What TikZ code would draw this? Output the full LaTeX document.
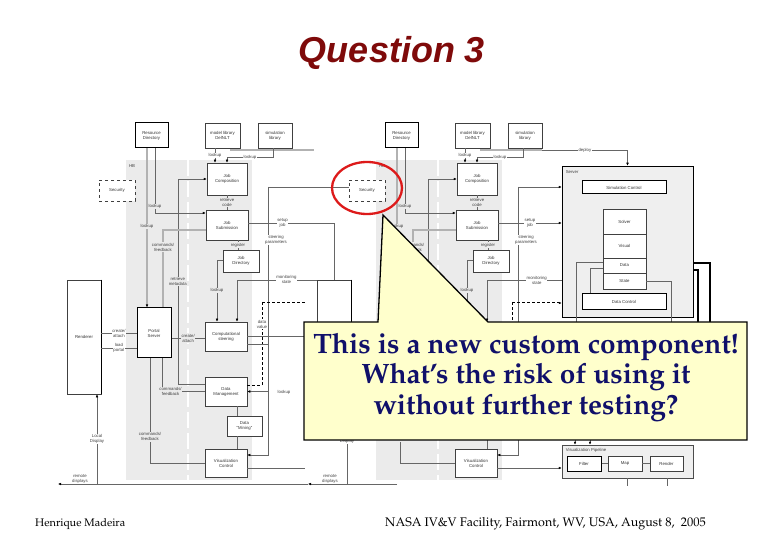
\documentclass[tikz,border=0pt]{standalone}
\usepackage[T1]{fontenc}
\usepackage{fontspec}
\usetikzlibrary{arrows.meta}
\newfontfamily\headfont{Liberation Sans}
\newfontfamily\diafont{Liberation Sans}
\newcommand\palfont{\fontencoding{T1}\fontfamily{ppl}\selectfont}
\newcommand\hidtext[1]{#1}
\definecolor{bggrey}{HTML}{EBEBEB}
\definecolor{servergrey}{HTML}{EFEFEF}
\definecolor{titlered}{HTML}{7F0A0A}
\definecolor{navy}{HTML}{10106A}
\definecolor{noteyellow}{HTML}{FFFFCC}
\definecolor{ringred}{HTML}{DD1A1A}

% one copy of the architecture, names prefixed by #1
\newcommand\archcopy[1]{%
  \fill[bggrey] (126,160) rectangle (252,480);
  \draw[white,line width=2.5pt,dash pattern=on 16pt off 5pt] (188,160) -- (188,480);
  \node[lbl,fill=none] (#1hb) at (132,166) {HB};
  % components
  \node[bbox,minimum width=33pt,minimum height=25pt] (#1rd) at (151.5,135.5) {Resource\\Directory};
  \node[box,minimum width=35pt,minimum height=25pt] (#1ml) at (222.5,135.5) {model library\\DelNLT};
  \node[box,minimum width=34pt,minimum height=25pt] (#1sl) at (275,135.5) {simulation\\library};
  \node[box,dashed,minimum width=36pt,minimum height=21pt] (#1sec) at (117,190.5) {Security};
  \node[box,minimum width=40pt,minimum height=32pt] (#1jc) at (227,179) {Job\\Composition};
  \node[box,minimum width=42pt,minimum height=30pt] (#1js) at (227,225) {Job\\Submission};
  \node[box,minimum width=36pt,minimum height=22pt] (#1jd) at (241,261) {Job\\Directory};
  \node[box,minimum width=34pt,minimum height=114pt] (#1ren) at (84,337) {\hidtext{Renderer}};
  \node[bbox,minimum width=34pt,minimum height=50pt] (#1ps) at (154,333) {\hidtext{Portal\\Server}};
  \node[box,minimum width=42pt,minimum height=29pt] (#1cs) at (226,336.5) {\hidtext{Computational\\steering}};
  \node[box,minimum width=42pt,minimum height=29pt] (#1dm) at (226,391.5) {\hidtext{Data\\Management}};
  \node[box,minimum width=35pt,minimum height=20pt] (#1dmin) at (244.5,426) {\hidtext{Data\\“Mining”}};
  \node[box,minimum width=42pt,minimum height=28pt] (#1vc) at (226,463) {Visualization\\Control};
  \draw[black,line width=1.5pt] (#1ren.north east) -- (#1ren.south east);
  % connectors
  \draw[thk] ([xshift=-10pt,yshift=-2pt]#1ml.south east) -- ([yshift=-2pt]#1sl.south east);
  \draw[ln,arr] ([xshift=-7.5pt]#1ml.south) -- node[lbl] (#1l1) {lookup} ([xshift=-7.5pt]#1ml.south |- #1jc.north);
  \draw[ln,arr] ([xshift=-2pt]#1sl.south) -- ++(0,9) -| node[lbl,pos=0.25] (#1l2) {lookup} (#1jc.north);
  \draw[ln,arr] (#1dm.north west) ++(0,7) -- ++(-27,0) |- node[lbl,pos=0.25,fill=bggrey] (#1l3) {\hidtext{retrieve\\metadata}} (#1jc.west);
  \draw[ln,arr] ([xshift=3.5pt]#1rd.south) |- node[lbl,pos=0.45,fill=bggrey] (#1l4) {lookup} ([yshift=12pt]#1js.west);
  \draw[thk,arr] ([xshift=-4.5pt]#1rd.south) -- node[lbl,pos=0.49,fill=bggrey] (#1l5) {lookup} ([xshift=-4.5pt]#1rd.south |- #1ps.north);
  \draw[thk] ([yshift=-5pt]#1js.west) -| node[lbl,pos=0.61,fill=bggrey] (#1l6) {commands/\\feedback} ([xshift=9pt]#1ps.north);
  \draw[ln] (#1jc.south) -- node[lbl,fill=bggrey] (#1l7) {retrieve\\code} (#1jc.south |- #1js.north);
  \draw[ln] ([xshift=11pt]#1js.south) -- node[lbl,fill=bggrey] (#1l8) {register} ([xshift=11pt]#1js.south |- #1jd.north);
  \draw[ln,arr] ([yshift=1pt]#1jd.west) -| node[lbl,pos=0.75,fill=bggrey] (#1l9) {lookup} ([xshift=-9pt]#1cs.north);
  \draw[ln] (#1ps.west) -- node[lbl] (#1l10) {\hidtext{create/\\attach}} (#1ps.west -| #1ren.east);
  \draw[ln] ([yshift=-15pt]#1ps.west) -- node[lbl] (#1l11) {\hidtext{load\\portal}} ([yshift=-15pt]#1ps.west -| #1ren.east);
  \draw[ln] ([yshift=-5pt]#1ps.east) -- node[lbl,fill=bggrey] (#1l12) {\hidtext{create/\\attach}} ([yshift=-5pt]#1ps.east -| #1cs.west);
  \draw[ln] ([xshift=8pt]#1ps.south) |- node[lbl,pos=0.6,fill=bggrey] (#1l13) {\hidtext{commands/\\feedback}} (#1dm.west);
  \draw[ln] ([xshift=-4pt]#1ps.south) |- node[lbl,pos=0.375,fill=bggrey] (#1l14) {commands/\\feedback} (#1vc.west);
  \draw[ln] ([xshift=11pt]#1dm.south) -- ([xshift=11pt]#1dm.south |- #1dmin.north);
  \draw[ln] ([xshift=11pt]#1vc.north |- #1dmin.south) -- ([xshift=11pt]#1vc.north);
  \coordinate (#1dvtop) at (262,303);
  \draw[dsh] ([yshift=6pt]#1dm.east) -| (#1dvtop);
  \coordinate (#1tap) at (268,187);
  \draw[ln,arr] (#1tap) |- ([yshift=8pt]#1vc.east);
  \draw[ln] ([yshift=-8pt]#1cs.east) -- ([yshift=-8pt]#1cs.east -| #1tap);
  \draw[ln,arr] (#1dm.east -| #1tap) -- (#1dm.east);
  \coordinate (#1rdl) at (58,484);
  \coordinate (#1rdr) at (147,484);
  \draw[ln,arr] (#1rdr) -- (#1rdl);
  \draw[ln,arr] ([xshift=13pt]#1ren.south |- #1rdl) -- node[lbl] (#1l15) {Local\\Display} ([xshift=13pt]#1ren.south);
  % free labels
  \node[lbl] (#1l16) at (276,240) {steering\\parameters};
  \node[lbl] (#1l17) at (262,324) {\hidtext{data\\value}};
  \node[lbl] (#1l18) at (284,392) {\hidtext{lookup}};
  \node[lbl] (#1l19) at (80,479) {remote\\displays};
}

\begin{document}
\begin{tikzpicture}[x=1pt,y=-1pt,
  box/.style={draw=black!75,fill=white,line width=0.5pt,inner sep=0pt,align=center,
    font=\diafont\fontsize{4.3}{5}\selectfont,text=black!80},
  bbox/.style={box,draw=black,line width=1pt},
  lbl/.style={font=\diafont\fontsize{4.3}{5}\selectfont,text=black!75,align=center,
    inner sep=0.6pt,fill=white},
  ln/.style={draw=black!60,line width=0.45pt},
  thk/.style={draw=black!30,line width=1.6pt},
  dsh/.style={draw=black,line width=1pt,dash pattern=on 3pt off 2pt},
  arr/.style={-{Latex[length=3pt,width=2.6pt,color=black]}}]
  \fill[white] (0,0) rectangle (780,540);
  \useasboundingbox (0,0) rectangle (780,540);

  \node[font=\headfont\bfseries\itshape\fontsize{36}{40}\selectfont,text=titlered,anchor=base] (title) at (392,63) {Question 3};

  % the two copies of the diagram
  \archcopy{L}
  \begin{scope}[xshift=250pt]
    % texts under the callout stay blank
    \renewcommand\hidtext[1]{}
    \archcopy{R}
  \end{scope}

  % left copy, links running to the right
  \draw[thk] ([yshift=-2pt]Lsl.south east) -- ++(22,0);
  \draw[ln] (Ltap) -- (Ltap -| Rsec.west);
  \draw[ln] ([yshift=2pt]Ljs.east) -| node[lbl,pos=0.2] (Lsetup) {setup\\job} (Rren.north);
  \draw[ln,arr] (Rren.north west) -| node[lbl,pos=0.19] (Lmon) {monitoring\\state} ([xshift=11pt]Lcs.north);
  \draw[dsh] (Ldvtop) -- ++(43,0);
  \draw[ln] (Lcs.east) -- ++(58,0);
  \draw[ln] ([yshift=-5pt]Lvc.east) -- ++(58,0);
  \draw[ln] (Rrdl) -- (Lrdr);

  % server
  \node[box,fill=servergrey,draw=black,minimum width=131pt,minimum height=151pt] (srv) at (627.5,241.5) {};
  \draw[black,line width=1.4pt] ([yshift=-3pt]srv.north east) -- (srv.south east) -- ([xshift=3pt]srv.south west);
  \node[lbl,fill=none,anchor=west] (srvl) at (565,172) {Server};
  \node[bbox,minimum width=84pt,minimum height=13pt] (simc) at (624,187.5) {Simulation Control};
  \node[box,minimum width=43pt,minimum height=25pt] (solver) at (624.5,221.5) {Solver};
  \node[box,minimum width=43pt,minimum height=24pt] (visual) at (624.5,246) {Visual};
  \node[box,minimum width=43pt,minimum height=15pt] (data) at (624.5,265.5) {Data};
  \node[box,minimum width=43pt,minimum height=16pt] (state) at (624.5,281) {State};
  \node[bbox,minimum width=84pt,minimum height=16pt] (dc) at (624,302) {Data Control};
  \coordinate (hidA) at (576,345);
  \coordinate (hidB) at (671,345);
  \coordinate (hidC) at (710,345);
  \coordinate (hidD) at (698,345);
  \draw[ln] ([yshift=3.5pt]data.west) -| (hidA);
  \draw[ln] ([yshift=-2.5pt]data.west) -| ([xshift=-34pt]dc.north);
  \draw[ln] (state.east) -| (hidB);
  \draw[black,line width=1.1pt] ([yshift=-21.5pt]srv.east) -| (hidC);
  \draw[black,line width=1.1pt] ([yshift=-28.5pt]srv.east) -| (hidD);

  % right copy, links into the server
  \draw[ln,arr] (Rsl.south east) ++(0,2) -| node[lbl,pos=0.25] (ldeploy) {deploy} (srv.north);
  \draw[ln,arr] (Rtap) -- (Rtap -| srv.west);
  \draw[ln,arr] ([yshift=2pt]Rjs.east) -- node[lbl] (Rsetup) {setup\\job} ([yshift=2pt]Rjs.east -| srv.west);
  \draw[ln,arr] ([yshift=-38.5pt]srv.west) -| node[lbl,pos=0.167] (Rmon) {monitoring\\state} ([xshift=11pt]Rcs.north);
  \draw[dsh,arr] (Rdvtop) -- (Rdvtop -| srv.west);
  \draw[ln] (Rcs.east) -- (Rcs.east -| srv.west);

  % visualization pipeline
  \node[box,fill=servergrey,draw=black!70,minimum width=131pt,minimum height=33pt] (vpl) at (627.5,461.5) {};
  \draw[black!70,line width=1.2pt] ([yshift=-2pt]vpl.north east) -- (vpl.south east) -- ([xshift=2pt]vpl.south west);
  \node[lbl,fill=none,anchor=west] (vpll) at (565,450) {Visualization Pipeline};
  \node[bbox,minimum width=34pt,minimum height=15pt] (filter) at (584,463.5) {Filter};
  \node[box,minimum width=34pt,minimum height=15pt] (map) at (625,463.5) {Map};
  \node[box,minimum width=33pt,minimum height=15pt] (render) at (666.5,463.5) {Render};
  \draw[ln] (filter) -- (map);
  \draw[ln] (map) -- (render);
  \draw[ln,arr] ([yshift=-5pt]Rvc.east) -- ([yshift=-5pt]Rvc.east -| vpl.west);
  \draw[ln,arr] ([xshift=-52.5pt]vpl.north) ++(0,-14) -- ++(0,14);
  \draw[ln,arr] ([xshift=-37.5pt]vpl.north) ++(0,-14) -- ++(0,14);
  \draw[ln] (vpl.south) -- ++(0,8);
  \draw[ln] ([xshift=39.5pt]vpl.south) -- ++(0,8);

  % red ring round the new component
  \draw[ringred,line width=2.3pt] (367,188) ellipse [x radius=35,y radius=26];

  % callout
  \draw[fill=noteyellow,line width=1.3pt,line join=miter] (304,322) -- (378,322) -- (383,215) -- (488,322)
    -- (747,322) -- (747,440) -- (304,440) -- cycle;
  \node[font=\palfont\bfseries\fontsize{28}{30.5}\selectfont,text=navy,align=center] (note) at (526,377)
    {This is a new custom component!\\What's the risk of using it\\without further testing?};

  % footer
  \node[font=\palfont\fontsize{11}{13}\selectfont,anchor=base west,inner sep=0pt] (author) at (35,526) {Henrique Madeira};
  \node[font=\palfont\fontsize{12.5}{14}\selectfont,anchor=base west,inner sep=0pt] (venue) at (385,526)
    {NASA IV\&V Facility, Fairmont, WV, USA, August 8,\ \ 2005};
\end{tikzpicture}
\end{document}
